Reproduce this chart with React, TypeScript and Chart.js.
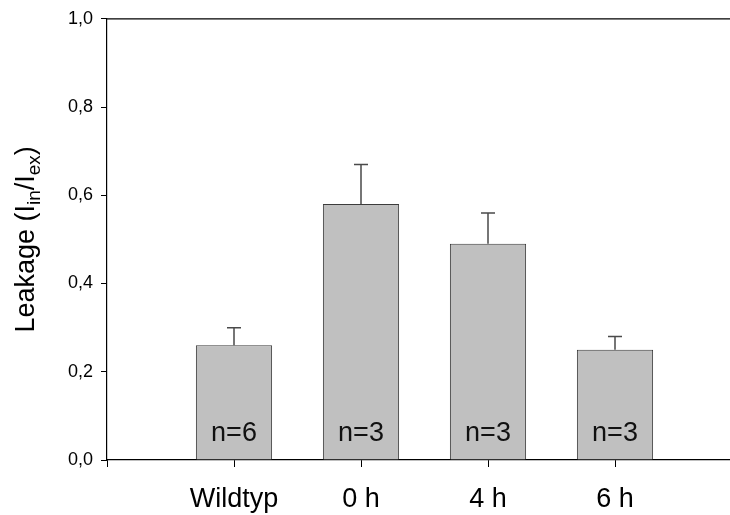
import React, { useEffect, useRef } from "react";
import { Chart, registerables } from "chart.js";

Chart.register(...registerables);

const categories = ["Wildtyp", "0 h", "4 h", "6 h"];
const leakage = [0.26, 0.58, 0.49, 0.25];
const errorUp = [0.04, 0.09, 0.07, 0.03];
const nLabels = ["n=6", "n=3", "n=3", "n=3"];
const yMin = 0;
const yMax = 1.0;
const yStep = 0.2;

const FONT = "'Liberation Sans', Arial, Helvetica, sans-serif";

const errorBarPlugin = {
  id: "errorBars",
  afterDatasetsDraw(chart: any) {
    const meta = chart.getDatasetMeta(0);
    const yScale = chart.scales.y;
    const ctx = chart.ctx;
    ctx.save();
    ctx.strokeStyle = "#4a4a4a";
    ctx.lineWidth = 1.5;
    meta.data.forEach((bar: any, i: number) => {
      const x = bar.x;
      const yTop = yScale.getPixelForValue(leakage[i] + errorUp[i]);
      const yBar = bar.y;
      ctx.beginPath();
      ctx.moveTo(x, yBar);
      ctx.lineTo(x, yTop);
      ctx.moveTo(x - 7, yTop);
      ctx.lineTo(x + 7, yTop);
      ctx.stroke();
    });
    // n labels
    ctx.fillStyle = "#111";
    ctx.font = `27px ${FONT}`;
    ctx.textAlign = "center";
    ctx.textBaseline = "alphabetic";
    meta.data.forEach((bar: any, i: number) => {
      ctx.fillText(nLabels[i], bar.x, chart.chartArea.bottom - 19);
    });
    // top frame line
    ctx.strokeStyle = "#000";
    ctx.lineWidth = 1.2;
    ctx.beginPath();
    ctx.moveTo(chart.chartArea.left, chart.chartArea.top);
    ctx.lineTo(chart.chartArea.right, chart.chartArea.top);
    ctx.stroke();
    ctx.restore();
  },
};

const yTitlePlugin = {
  id: "yTitle",
  afterDraw(chart: any) {
    const ctx = chart.ctx;
    const area = chart.chartArea;
    const parts: [string, boolean][] = [
      ["Leakage (I", false],
      ["in", true],
      ["/I", false],
      ["ex", true],
      [")", false],
    ];
    const mainFont = `27px ${FONT}`;
    const subFont = `19px ${FONT}`;
    ctx.save();
    let total = 0;
    const widths = parts.map(([t, sub]) => {
      ctx.font = sub ? subFont : mainFont;
      const w = ctx.measureText(t).width;
      total += w;
      return w;
    });
    ctx.translate(34, (area.top + area.bottom) / 2);
    ctx.rotate(-Math.PI / 2);
    ctx.fillStyle = "#000";
    ctx.textAlign = "left";
    ctx.textBaseline = "alphabetic";
    let x = -total / 2;
    parts.forEach(([t, sub], i) => {
      ctx.font = sub ? subFont : mainFont;
      ctx.fillText(t, x, sub ? 5.5 : 0);
      x += widths[i];
    });
    ctx.restore();
  },
};

export default function App() {
  const ref = useRef<HTMLCanvasElement | null>(null);

  useEffect(() => {
    if (!ref.current) return;
    const chart = new Chart(ref.current, {
      type: "bar",
      data: {
        datasets: [
          {
            data: categories.map((_, i) => ({ x: i + 1, y: leakage[i] })),
            backgroundColor: "#c0c0c0",
            borderColor: "#3c3c3c",
            borderWidth: 1,
            barPercentage: 0.6,
            categoryPercentage: 1,
          },
        ],
      },
      options: {
        responsive: false,
        animation: false,
        events: [],
        layout: { padding: { left: 0, right: 18, top: 18, bottom: 0 } },
        plugins: {
          legend: { display: false },
          tooltip: { enabled: false },
          title: { display: false },
        },
        scales: {
          x: {
            type: "linear",
            position: "bottom",
            offset: false,
            min: 0,
            max: categories.length + 1,
            grid: {
              display: true,
              offset: false,
              drawOnChartArea: false,
              drawTicks: true,
              tickLength: 7,
              color: "#000",
              lineWidth: 1,
            },
            border: { display: true, color: "#000", width: 1.2 },
            ticks: {
              stepSize: 1,
              autoSkip: false,
              maxRotation: 0,
              padding: 16,
              color: "#000",
              font: { family: FONT, size: 27 },
              callback: (v: any) => {
                const idx = Math.round(Number(v)) - 1;
                return categories[idx] ?? "";
              },
            },
            afterFit: (s: any) => {
              s.height = 55;
            },
          },
          y: {
            min: yMin,
            max: yMax,
            grid: {
              display: true,
              drawOnChartArea: false,
              drawTicks: true,
              tickLength: 6,
              color: "#000",
              lineWidth: 1,
            },
            border: { display: true, color: "#000", width: 1.2 },
            ticks: {
              stepSize: yStep,
              padding: 8,
              color: "#000",
              font: { family: FONT, size: 18 },
              callback: (v: any) => Number(v).toFixed(1).replace(".", ","),
            },
            afterFit: (s: any) => {
              s.width = 107;
            },
          },
        },
      },
      plugins: [errorBarPlugin, yTitlePlugin],
    });
    return () => chart.destroy();
  }, []);

  return (
    <div
      style={{
        position: "fixed",
        left: 0,
        top: 0,
        width: 730,
        height: 515,
        overflow: "hidden",
        background: "#fff",
      }}
    >
      <canvas ref={ref} width={760} height={515} style={{ display: "block" }} />
    </div>
  );
}
